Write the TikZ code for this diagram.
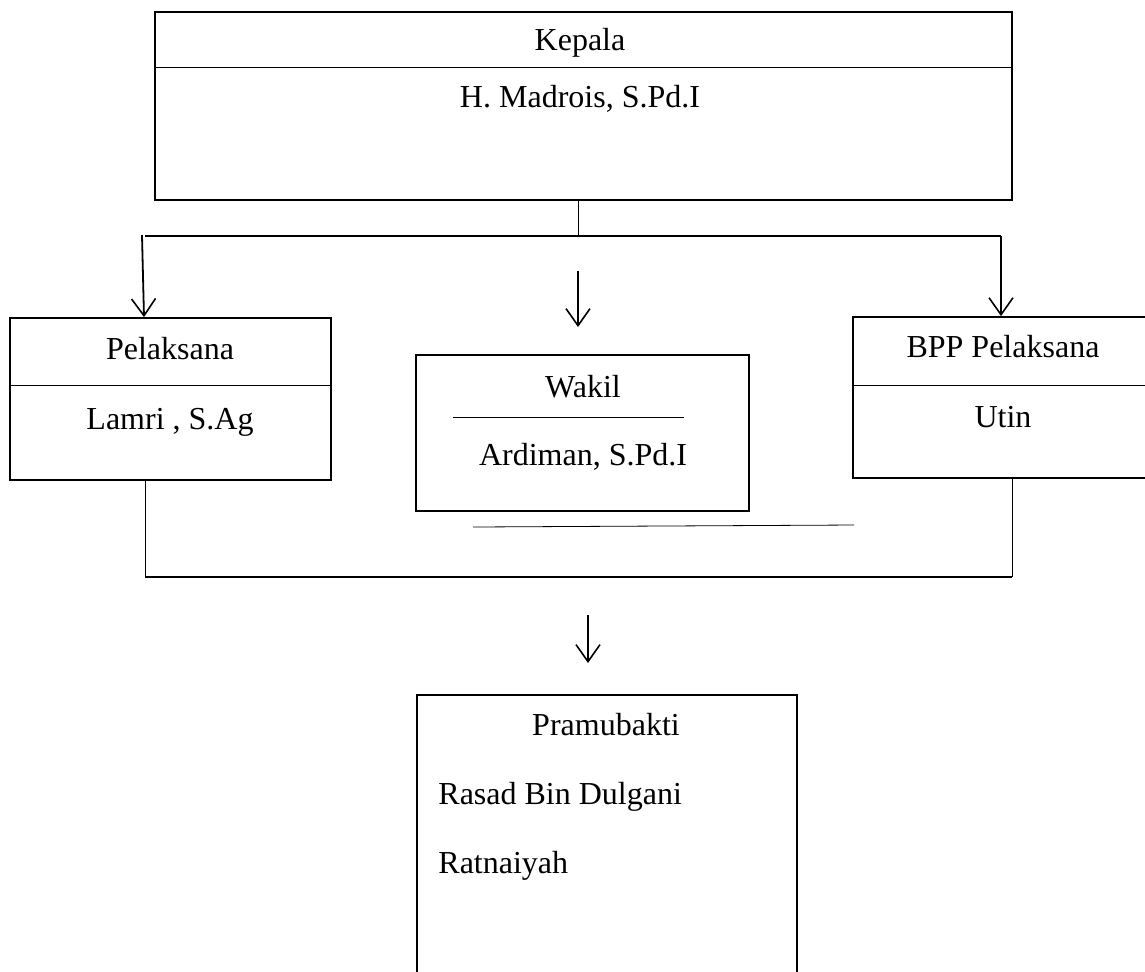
\documentclass[tikz,border=0pt]{standalone}
\usepackage{fontspec}
\setmainfont{Liberation Serif}
\usepackage{tikz}
\usetikzlibrary{arrows.meta}
\tikzset{box/.style={draw,line width=0.9pt,inner sep=0pt},
 txt/.style={font=\fontsize{16}{19}\selectfont,inner sep=0pt,anchor=base},
 divider/.style={line width=0.4pt},
 link/.style={line width=0.7pt},
 thinlink/.style={line width=0.4pt},
 arr/.style={line width=0.9pt,-{Straight Barb[length=8.5pt,width=12pt,line width=0.8pt]}},
 }

\begin{document}
\begin{tikzpicture}[x=0.5pt,y=-0.5pt]
        \useasboundingbox (0,0) rectangle (1145,971);
        \clip (0,0) rectangle (1145,971);
        \node[box,minimum width=428.5pt,minimum height=94pt] (kepala) at (583.5,106) {};
        \node[box,minimum width=160.5pt,minimum height=81pt] (pelaksana) at (170.5,399) {};
        \node[box,minimum width=166.5pt,minimum height=78pt] (wakil) at (582.5,433) {};
        \node[box,minimum width=153.5pt,minimum height=80.5pt] (bpp) at (1006.5,397.5) {};
        \node[box,minimum width=190pt,minimum height=152.5pt] (pramu) at (607,847.5) {};
        \draw[divider] (kepala.west |- 0,67) -- (kepala.east |- 0,67);
        \draw[divider] (pelaksana.west |- 0,385) -- (pelaksana.east |- 0,385);
        \draw[divider] (bpp.west |- 0,385) -- (bpp.east |- 0,385);
        \draw[divider] (453,417) -- (684,417);
        \node[txt] (kepala-title) at (580,50) {Kepala};
        \node[txt] (kepala-name) at (580,107) {H. Madrois, S.Pd.I};
        \node[txt] (pelaksana-title) at (170,359) {Pelaksana};
        \node[txt] (pelaksana-name) at (170,429) {Lamri , S.Ag};
        \node[txt] (wakil-title) at (583,397) {Wakil};
        \node[txt] (wakil-name) at (583,465) {Ardiman, S.Pd.I};
        \node[txt] (bpp-title) at (1003,357) {BPP Pelaksana};
        \node[txt] (bpp-name) at (1003,427) {Utin};
        \node[txt] (pramu-title) at (606,735) {Pramubakti};
        \node[txt,anchor=base west] (pramu-one) at (438,804) {Rasad Bin Dulgani};
        \node[txt,anchor=base west] (pramu-two) at (438,873) {Ratnaiyah};
        \coordinate (split) at (578,236);
        \coordinate (busL) at (145,236);
        \coordinate (busR) at (1001,236);
        \coordinate (leftTop) at (142,235);
        \coordinate (midA) at (578,271);
        \coordinate (midB) at (578,327);
        \coordinate (underA) at (473,527);
        \coordinate (underB) at (854,525);
        \coordinate (botL) at (145,577);
        \coordinate (botR) at (1012,577);
        \coordinate (lowA) at (588,615);
        \coordinate (lowB) at (588,663);
        \draw[thinlink] (split |- kepala.south) -- (split);
        \draw[link] (busL) -- (busR);
        \draw[arr] (busR) -- (busR |- bpp.north);
        \draw[arr] (leftTop) -- ([xshift=1pt]pelaksana.north -| leftTop);
        \draw[arr] (midA) -- (midB);
        \draw[thinlink] (underA) -- (underB);
        \draw[thinlink] (pelaksana.south -| botL) -- (botL);
        \draw[link] (botL) -- (botR);
        \draw[thinlink] (botR) -- (bpp.south -| botR);
        \draw[arr] (lowA) -- (lowB);
    \end{tikzpicture}
\end{document}
